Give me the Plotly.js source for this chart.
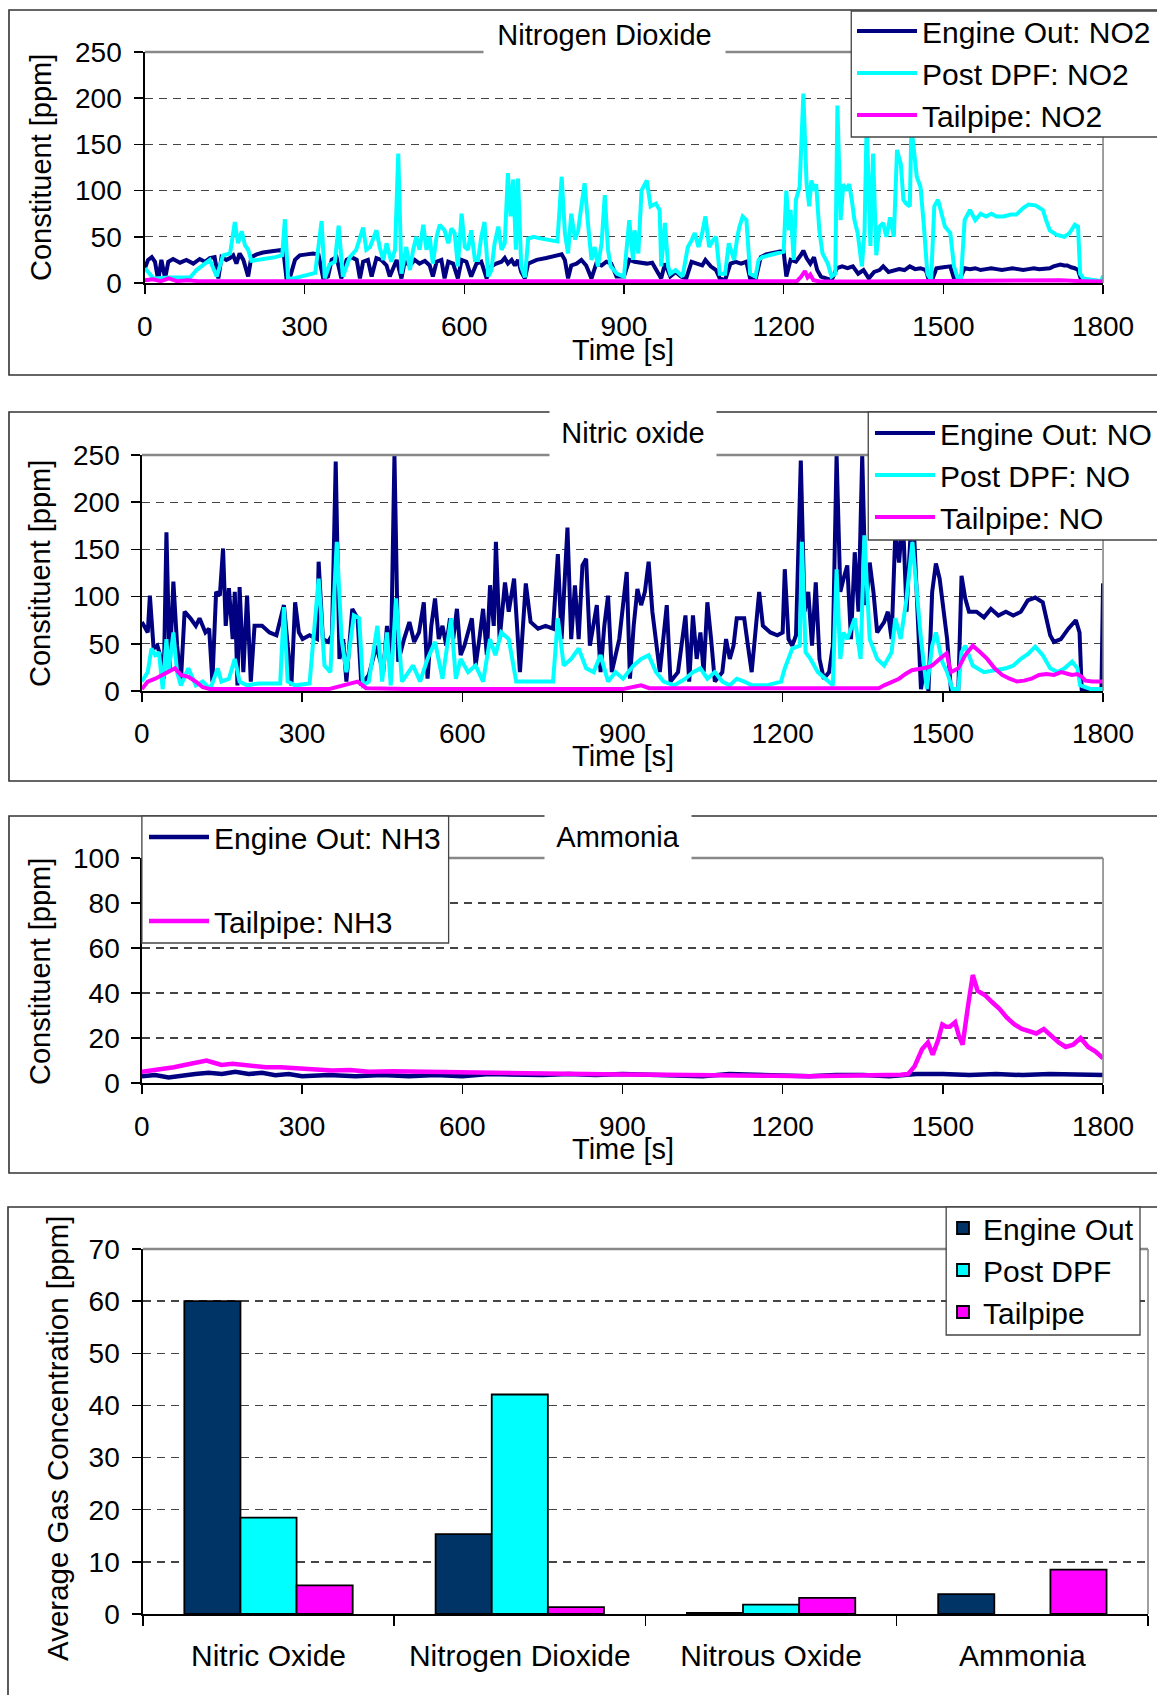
<!DOCTYPE html>
<html>
<head>
<meta charset="utf-8">
<script src="https://cdn.plot.ly/plotly-3.0.1.min.js"></script>
<style>
html,body{margin:0;padding:0;background:#fff;}
#chart{width:1157px;height:1695px;}
</style>
</head>
<body>
<div id="chart"></div>
<script>
// ---------------- DATA ----------------
// Panel 1: Nitrogen Dioxide [ppm] vs Time [s]
const no2EngineT = [0,6,13,19,25,31,38,44,53,66,78,91,103,113,122,131,138,144,153,160,166,172,178,185,194,200,210,222,235,247,260,266,272,282,291,304,316,326,335,344,351,360,369,379,388,398,404,410,419,426,435,444,454,460,473,482,488,498,507,516,526,535,541,548,557,563,570,579,588,595,604,613,623,632,642,651,660,670,676,682,689,695,701,707,714,720,736,754,773,783,789,795,801,811,820,829,839,848,858,867,876,886,900,910,920,933,943,953,963,970,977,987,997,1007,1017,1027,1037,1047,1053,1063,1073,1080,1090,1100,1110,1120,1130,1137,1147,1157,1167,1180,1193,1200,1205,1213,1223,1232,1237,1243,1250,1257,1263,1270,1280,1290,1300,1310,1320,1330,1340,1350,1360,1370,1380,1387,1397,1407,1417,1427,1437,1447,1457,1467,1473,1480,1487,1500,1513,1520,1530,1540,1550,1560,1570,1580,1590,1600,1610,1620,1630,1640,1650,1660,1670,1680,1690,1700,1707,1713,1720,1727,1733,1740,1747,1753,1759,1770,1785,1800];
const no2EngineV = [16,25,28,23,3,25,5,23,26,22,25,21,26,23,27,28,5,28,25,27,30,21,32,25,7,28,31,33,34,35,36,5,5,25,30,31,32,31,5,7,25,28,5,25,28,25,5,23,25,7,27,25,19,7,25,5,23,19,25,21,24,19,7,23,25,5,23,21,5,25,23,7,21,23,5,18,21,23,27,21,25,19,25,12,5,21,25,27,29,31,25,5,19,21,25,19,5,21,19,23,21,7,7,25,23,22,21,22,12,5,21,7,12,7,5,23,21,19,25,18,14,5,3,21,23,21,23,5,3,28,31,33,34,34,7,25,23,30,35,27,21,28,14,7,5,3,16,18,16,18,10,14,5,12,14,18,12,14,15,14,18,15,16,14,3,5,16,17,18,5,3,16,15,16,14,15,16,15,14,15,16,15,14,15,16,15,15,16,18,19,20,19,19,17,16,14,3,1,1,1];

const no2DpfT = [0,16,47,85,97,122,135,147,160,169,175,182,188,194,200,215,230,245,258,263,269,280,300,320,332,338,347,357,364,372,385,397,410,416,423,435,441,448,454,463,470,476,482,491,498,504,510,516,523,529,535,541,548,554,563,570,576,582,588,595,601,607,613,620,626,632,638,645,651,657,664,670,676,682,687,692,697,701,707,714,720,730,745,760,775,783,789,795,801,808,814,820,826,833,839,845,851,858,864,870,875,887,900,910,917,920,927,933,943,950,960,967,970,977,983,987,997,1010,1020,1027,1033,1040,1047,1053,1060,1067,1073,1080,1090,1097,1107,1113,1117,1123,1130,1137,1147,1153,1160,1173,1187,1200,1205,1210,1213,1219,1223,1230,1237,1243,1248,1252,1257,1261,1267,1273,1283,1290,1297,1301,1307,1312,1317,1323,1328,1333,1339,1347,1352,1356,1363,1368,1374,1380,1387,1393,1400,1407,1413,1420,1425,1430,1437,1440,1450,1457,1463,1470,1477,1483,1490,1497,1503,1513,1520,1527,1533,1540,1550,1560,1570,1580,1590,1600,1613,1627,1637,1650,1660,1673,1687,1693,1700,1713,1727,1737,1747,1753,1757,1763,1780,1797,1800];
const no2DpfV = [16,5,6,6,14,25,7,30,32,66,43,56,41,36,24,25,27,28,30,69,5,5,8,11,67,5,20,23,62,7,28,36,60,36,39,57,39,25,43,23,36,140,10,39,14,36,50,36,63,36,50,21,50,63,57,43,59,54,18,75,39,36,57,25,25,50,66,7,14,43,61,36,43,119,72,112,36,113,18,6,48,50,48,47,45,115,54,32,75,47,57,83,108,61,25,39,18,43,95,36,18,10,7,68,25,57,32,100,111,83,86,79,18,65,18,10,14,7,39,46,54,39,54,72,39,46,50,10,10,43,25,50,61,72,68,10,7,25,28,30,32,34,100,57,79,25,90,104,205,108,83,111,100,107,57,32,21,7,10,192,68,107,100,107,90,68,54,18,57,175,40,140,30,61,65,50,71,50,144,129,90,86,83,170,115,104,65,10,3,83,90,72,61,54,18,5,3,68,79,68,75,72,75,72,72,74,74,81,85,84,79,68,57,52,50,54,63,61,10,5,3,2,8];

const no2TailT = [0,15,30,45,60,80,100,150,200,300,400,500,600,700,800,900,1000,1100,1200,1225,1233,1240,1245,1250,1256,1270,1350,1450,1520,1560,1640,1720,1760,1800];
const no2TailV = [3,4,2,5,2,3,2,2,1.5,1.5,1.5,1.5,1.5,1.5,1.5,1.5,1.5,1.5,1.5,2,7,13,6,9,3,1.5,1.5,2,2.5,3,3,3,2,1.5];

// Panel 2: Nitric oxide [ppm] vs Time [s]
const noEngineT = [0,11,15,22,29,36,41,46,52,59,66,73,80,91,101,108,119,126,132,139,146,152,157,163,170,174,179,183,190,197,204,211,225,239,252,266,280,287,294,301,314,328,331,339,349,356,363,370,377,383,394,404,411,425,439,452,459,466,473,480,491,501,510,519,528,535,542,549,556,563,570,577,583,590,597,604,618,625,632,639,646,652,659,663,670,680,687,697,708,719,728,742,756,770,779,786,797,804,811,818,825,832,839,852,859,866,873,880,894,908,914,921,928,935,942,949,956,963,970,983,990,1004,1018,1025,1032,1039,1046,1052,1059,1066,1073,1087,1094,1101,1108,1114,1128,1135,1142,1156,1163,1177,1190,1200,1204,1211,1218,1225,1234,1241,1248,1255,1262,1269,1277,1287,1294,1301,1308,1314,1321,1328,1335,1342,1349,1356,1363,1370,1377,1390,1397,1404,1411,1418,1425,1432,1439,1446,1452,1459,1466,1473,1480,1487,1494,1501,1508,1515,1529,1535,1542,1549,1563,1577,1590,1604,1618,1632,1646,1659,1673,1687,1694,1701,1708,1721,1735,1749,1756,1760,1777,1797,1800];
const noEngineV = [73,62,101,45,48,34,13,168,24,116,48,10,84,77,69,77,62,66,10,105,101,151,69,109,55,105,6,110,20,101,10,69,69,62,59,91,6,94,62,55,59,55,137,55,52,59,243,34,55,10,87,77,6,17,48,20,69,20,250,31,55,73,52,62,94,13,69,98,55,69,48,77,55,87,38,48,77,27,55,87,38,112,69,158,55,115,84,119,20,114,73,66,69,66,145,55,173,55,112,55,133,140,48,91,20,69,101,20,55,126,13,69,108,91,105,137,84,48,20,91,10,20,80,10,80,34,62,20,94,55,10,20,55,34,48,77,77,48,20,105,69,62,59,62,129,55,48,59,244,84,105,48,115,34,13,20,48,250,105,119,133,55,147,84,250,91,136,105,62,73,84,55,168,136,186,84,161,168,91,2,27,0,105,135,119,84,55,2,2,122,98,84,84,78,87,80,84,80,84,96,99,94,77,59,52,55,66,75,62,2,2,2,114];

const noDpfT = [0,11,18,25,32,39,46,50,59,66,73,87,101,114,128,142,149,163,174,183,197,218,252,259,266,273,287,314,331,342,353,365,374,383,397,407,414,425,441,450,459,466,476,487,508,521,535,549,563,579,588,597,611,625,639,652,662,673,687,701,714,742,770,779,790,804,818,832,846,859,873,887,901,921,935,949,963,977,997,1018,1032,1046,1059,1073,1087,1101,1114,1128,1142,1170,1197,1204,1218,1232,1236,1243,1252,1266,1280,1294,1301,1308,1314,1321,1335,1346,1353,1363,1377,1390,1404,1411,1421,1432,1443,1452,1459,1470,1480,1487,1499,1508,1518,1529,1535,1542,1556,1577,1597,1618,1632,1646,1659,1673,1687,1701,1715,1728,1742,1752,1757,1777,1800];
const noDpfV = [10,20,45,38,41,2,55,20,62,20,6,24,6,10,2,24,10,13,34,10,6,8,8,8,89,10,6,8,119,27,20,158,55,20,80,77,6,10,69,10,62,6,98,10,27,10,34,52,13,77,13,34,20,27,10,55,38,62,55,10,10,10,10,77,27,34,45,24,20,38,10,20,13,27,34,38,20,10,6,13,20,24,13,20,10,6,13,10,6,6,10,24,45,48,158,41,34,20,13,6,129,34,62,55,77,34,165,55,34,27,41,77,55,98,158,105,55,2,48,62,31,20,2,2,41,48,27,20,22,24,27,34,39,47,38,24,20,24,31,24,6,2,2];

const noTailT = [0,11,25,39,50,62,73,87,101,114,128,150,200,250,300,350,404,420,500,600,700,800,900,935,950,1050,1150,1250,1350,1380,1390,1404,1418,1430,1442,1452,1463,1472,1480,1487,1494,1507,1515,1522,1529,1542,1556,1570,1583,1597,1611,1625,1639,1652,1666,1680,1694,1708,1722,1735,1742,1752,1760,1767,1780,1800];
const noTailV = [2,10,13,17,20,24,17,15,10,4,2,2,2,2,2,2,10,3,2,2,2,2,2,6,3,3,3,3,3,3,6,10,13,18,22,23,24,25,27,30,34,40,20,22,24,38,48,41,34,24,17,13,10,11,13,17,18,17,20,18,17,18,15,11,10,10];

// Panel 3: Ammonia [ppm] vs Time [s]
const nh3EngineT = [0,25,50,75,100,125,150,175,200,225,250,275,300,350,400,450,500,550,600,650,700,750,800,850,900,950,1000,1050,1100,1150,1200,1250,1300,1350,1400,1450,1500,1550,1600,1650,1700,1750,1800];
const nh3EngineV = [3,3.5,2.5,3.5,4,4.5,4,5,4,4.5,3.5,4,3,3.5,3,3.5,3,3.5,3,4,3.5,3.5,4,3.5,4,3.5,3.5,3,4,3.5,3.5,3,3.5,3.5,3,4,4,3.5,4,3.5,4,3.5,3.5];

const nh3TailT = [0,20,39,60,80,100,121,135,149,170,190,210,232,260,287,320,356,390,425,470,520,563,610,660,701,750,800,839,900,977,1050,1114,1180,1252,1320,1380,1421,1435,1447,1461,1472,1481,1491,1499,1506,1513,1523,1530,1537,1547,1556,1565,1579,1592,1606,1620,1634,1648,1661,1675,1689,1703,1717,1730,1744,1758,1772,1786,1800];
const nh3TailV = [5,5.5,6,7,8,9,10,9,8,8.5,8,7.5,7,7,6.7,6.2,5.6,5.8,5,5.2,5,5,4.6,4.8,4.4,4.2,4,3.7,3.8,3.7,3.4,3,3.2,3,3.2,3.3,3.7,4,7.4,15,18,12.6,19,26,25,25,27,21,17,34,48,41,39,36,33,29,26,24,23,22,24,21,18,16,17,20,16,14,11];

// Panel 4: Average Gas Concentration [ppm]
const barCategories = ['Nitric Oxide','Nitrogen Dioxide','Nitrous Oxide','Ammonia'];
const barEngineOut = [60, 15.3, 0.2, 3.8];
const barPostDpf   = [18.5, 42.1, 1.8, null];
const barTailpipe  = [5.5, 1.3, 3.1, 8.5];

// ---------------- LAYOUT ----------------
const W = 1157, H = 1695;
const px = v => v / W;
const py = v => 1 - v / H;
const FONT = 'Liberation Sans, Arial, Helvetica, sans-serif';
const C_ENG = '#000080', C_DPF = '#00FFFF', C_TAIL = '#FF00FF';
const LW = 4;

function timeAxis(l, r, anchor, standoff) {
  return {
    domain: [px(l), px(r)], range: [0, 1800], tick0: 0, dtick: 300,
    ticks: 'outside', ticklen: 9, tickwidth: 1.5, tickcolor: '#000',
    showline: true, linecolor: '#000', linewidth: 2,
    showgrid: false, zeroline: false, anchor: anchor,
    tickfont: {family: FONT, size: 28, color: '#000'},
    ticklabelstandoff: standoff, fixedrange: true
  };
}
function valAxis(top, bottom, maxV, dt, anchor, standoff) {
  return {
    domain: [py(bottom), py(top)], range: [0, maxV], tick0: 0, dtick: dt,
    ticks: 'outside', ticklen: 9, tickwidth: 1.5, tickcolor: '#000',
    showline: true, linecolor: '#000', linewidth: 1.5,
    showgrid: true, gridcolor: '#444', gridwidth: 1.3, griddash: '8px,6px',
    zeroline: false, anchor: anchor,
    tickfont: {family: FONT, size: 28, color: '#000'},
    ticklabelstandoff: standoff, fixedrange: true
  };
}

function line(x, y, name, color, xa, ya, leg, group, w) {
  const t = {x: x, y: y, name: name, type: 'scatter', mode: 'lines',
    line: {color: color, width: w || LW}, xaxis: xa, yaxis: ya, legend: leg,
    hoverinfo: 'skip', cliponaxis: true};
  if (group) t.legendgroup = group;
  return t;
}
function bar(y, name, color) {
  return {x: barCategories, y: y, name: name, type: 'bar',
    marker: {color: color, line: {color: '#000', width: 1.8}},
    xaxis: 'x4', yaxis: 'y4', legend: 'legend4', hoverinfo: 'skip'};
}

const data = [
  line(no2EngineT, no2EngineV, 'Engine Out: NO2', C_ENG, 'x', 'y', 'legend'),
  line(no2DpfT, no2DpfV, 'Post DPF: NO2', C_DPF, 'x', 'y', 'legend'),
  line(no2TailT, no2TailV, 'Tailpipe: NO2', C_TAIL, 'x', 'y', 'legend'),
  line(noEngineT, noEngineV, 'Engine Out: NO', C_ENG, 'x2', 'y2', 'legend2'),
  line(noDpfT, noDpfV, 'Post DPF: NO', C_DPF, 'x2', 'y2', 'legend2'),
  line(noTailT, noTailV, 'Tailpipe: NO', C_TAIL, 'x2', 'y2', 'legend2'),
  line(nh3EngineT, nh3EngineV, 'Engine Out: NH3', C_ENG, 'x3', 'y3', 'legend3', 'g1', 4.5),
  line(nh3TailT, nh3TailV, 'Tailpipe: NH3', C_TAIL, 'x3', 'y3', 'legend3', 'g2', 4.5),
  bar(barEngineOut, 'Engine Out', '#003366'),
  bar(barPostDpf, 'Post DPF', '#00FFFF'),
  bar(barTailpipe, 'Tailpipe', '#FF00FF')
];

function panelBox(x0, y0, x1, y1) {
  return {type: 'rect', xref: 'paper', yref: 'paper', x0: px(x0), x1: px(x1), y0: py(y1), y1: py(y0),
    line: {color: '#333', width: 1.6}, fillcolor: 'rgba(0,0,0,0)', layer: 'below'};
}
function frame(xa, ya) {
  return [
    {type: 'line', xref: xa + ' domain', yref: ya + ' domain', x0: 0, x1: 1, y0: 1, y1: 1,
      line: {color: '#888', width: 2.5}, layer: 'above'},
    {type: 'line', xref: xa + ' domain', yref: ya + ' domain', x0: 1, x1: 1, y0: 0, y1: 1,
      line: {color: '#888', width: 1.6}, layer: 'above'}
  ];
}
function legendBox(x0, y0, x1, y1) {
  return {type: 'rect', xref: 'paper', yref: 'paper', x0: px(x0), x1: px(x1), y0: py(y1), y1: py(y0),
    line: {color: '#444', width: 1.3}, fillcolor: '#fff', layer: 'above'};
}

const shapes = [
  panelBox(9, 10, 1175, 375),
  panelBox(9, 412, 1175, 781),
  panelBox(9, 816, 1175, 1173),
  panelBox(8, 1207, 1175, 1720),
  ...frame('x', 'y'), ...frame('x2', 'y2'), ...frame('x3', 'y3'), ...frame('x4', 'y4'),
  legendBox(852, 11, 1175, 137),
  legendBox(869, 412, 1175, 540),
  legendBox(142, 816, 449, 943),
  legendBox(947, 1207, 1141, 1335)
];

function titleBox(text, cx, cy, w, h) {
  return {text: text, xref: 'paper', yref: 'paper', x: px(cx), y: py(cy), xanchor: 'center', yanchor: 'middle',
    showarrow: false, bgcolor: '#fff', width: w, height: h, borderpad: 0,
    font: {family: FONT, size: 29, color: '#000'}};
}
function yTitle(text, cx, cy, size) {
  return {text: text, xref: 'paper', yref: 'paper', x: px(cx), y: py(cy), xanchor: 'center', yanchor: 'middle',
    textangle: -90, showarrow: false, font: {family: FONT, size: size, color: '#000'}};
}
function xTitle(text, cx, cy) {
  return {text: text, xref: 'paper', yref: 'paper', x: px(cx), y: py(cy), xanchor: 'center', yanchor: 'middle',
    showarrow: false, font: {family: FONT, size: 29, color: '#000'}};
}

const annotations = [
  titleBox('Nitrogen Dioxide', 605, 35, 241, 42),
  titleBox('Nitric oxide', 634, 433, 166, 52),
  titleBox('Ammonia', 619, 837, 146, 50),
  yTitle('Constituent [ppm]', 41, 167, 29),
  yTitle('Constituent [ppm]', 40, 573, 29),
  yTitle('Constituent [ppm]', 40, 971, 29),
  yTitle('Average Gas Concentration [ppm]', 57, 1438, 29.5),
  xTitle('Time [s]', 624, 350),
  xTitle('Time [s]', 624, 756),
  xTitle('Time [s]', 624, 1149)
];

function legendAt(x, y, extra) {
  return Object.assign({x: px(x), y: py(y), xanchor: 'left', yanchor: 'top',
    bgcolor: 'rgba(0,0,0,0)', borderwidth: 0, itemwidth: 60,
    font: {family: FONT, size: 30, color: '#000'}, traceorder: 'normal'}, extra || {});
}

const layout = {
  width: W, height: H,
  margin: {l: 0, r: 0, t: 0, b: 0, pad: 0},
  paper_bgcolor: '#fff', plot_bgcolor: '#fff',
  font: {family: FONT, color: '#000'},
  showlegend: true,
  xaxis: timeAxis(145, 1104, 'y', 8),
  yaxis: valAxis(52, 283, 250, 50, 'x', 7),
  xaxis2: timeAxis(142, 1104, 'y2', 7),
  yaxis2: valAxis(455, 691, 250, 50, 'x2', 6),
  xaxis3: timeAxis(142, 1104, 'y3', 8),
  yaxis3: valAxis(858, 1083, 100, 20, 'x3', 6),
  xaxis4: {
    domain: [px(143), px(1149)], type: 'category', anchor: 'y4',
    ticks: 'outside', tickson: 'boundaries', ticklen: 10, tickwidth: 1.5, tickcolor: '#000',
    showline: true, linecolor: '#000', linewidth: 2, showgrid: false, zeroline: false,
    tickfont: {family: FONT, size: 30, color: '#000'}, ticklabelstandoff: 14, fixedrange: true
  },
  yaxis4: valAxis(1249, 1614, 70, 10, 'x4', 7),
  barmode: 'group', bargap: 0.33, bargroupgap: 0,
  legend: legendAt(852, 5),
  legend2: legendAt(871, 407),
  legend3: legendAt(144, 811, {traceorder: 'grouped', tracegroupgap: 42}),
  legend4: legendAt(943, 1202, {itemwidth: 30}),
  shapes: shapes,
  annotations: annotations
};

Plotly.newPlot('chart', data, layout, {displayModeBar: false, staticPlot: true});
</script>
</body>
</html>
